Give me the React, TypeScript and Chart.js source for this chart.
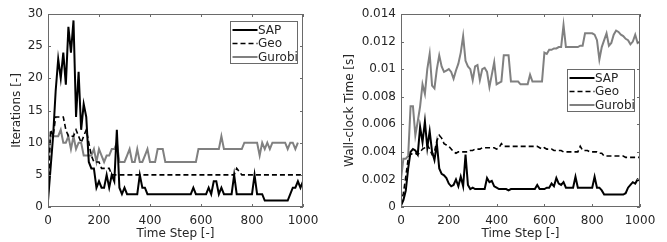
import React, { useEffect, useRef } from "react";
import { Chart, registerables } from "chart.js";
Chart.register(...registerables);

// Time steps (x categories, every 10 steps)
const timeSteps: number[] = Array.from({ length: 101 }, (_, i) => i * 10);

const seriesLabels = ["SAP", "Geo", "Gurobi"];
const xTickStep = 200;

// Left panel: iterations
const sapIterations = [
  1, 6, 11, 18, 23, 20, 24, 19, 28, 24, 29, 14, 21, 12, 16, 14, 7, 6, 6, 3,
  4, 3, 3, 5, 3, 5, 4, 12, 3, 2, 3, 2, 2, 2, 2, 2, 5, 3, 3, 2,
  2, 2, 2, 2, 2, 2, 2, 2, 2, 2, 2, 2, 2, 2, 2, 2,
  2, 3, 2, 2, 2, 2, 2, 3, 2, 4, 4, 2, 3, 2, 2, 2, 2, 5, 2, 2, 2, 2, 2, 2,
  2, 5, 2, 2, 2, 1, 1, 1, 1, 1, 1, 1, 1, 1, 1, 2, 3, 3, 4, 3, 4,
];
const geoIterations = [
  1, 12, 11, 14, 14, 14, 14, 12, 11, 11, 11, 12, 11, 10, 11, 12, 10, 8, 7, 7,
  7, 6, 6, 6, 6, 5, 5, 5, 5, 5, 5, 5, 5, 5, 5, 5, 5, 5, 5, 5,
  5, 5, 5, 5, 5, 5, 5, 5, 5, 5, 5, 5, 5, 5, 5, 5,
  5, 5, 5, 5, 5, 5, 5, 5, 5, 5, 5, 5, 5, 5, 5, 5, 5, 5, 6, 5.5, 5, 5, 5, 5,
  5, 5, 5, 5, 5, 5, 5, 5, 5, 5, 5, 5, 5, 5, 5, 5, 5, 5, 5, 5, 5,
];
const gurobiIterations = [
  7, 11, 11, 11, 11, 12, 10, 10, 11, 9, 11, 9, 10, 10, 8, 8, 8, 8, 9, 7,
  9, 8, 7, 8, 8, 9, 9, 10, 7, 7, 7, 8, 9, 7, 7, 9, 7, 7, 8, 9,
  7, 7, 7, 9, 9, 9, 7, 7, 7, 7, 7, 7, 7, 7, 7, 7,
  7, 7, 7, 9, 9, 9, 9, 9, 9, 9, 9, 9, 11, 9, 9, 9, 9, 9, 9, 9,
  9, 10, 10, 10, 10, 10, 10, 8, 10, 9, 10, 9, 10, 10, 10, 10, 10, 10, 9, 10, 10, 9, 10,
];
const iterTicks = { min: 0, max: 30, step: 5 };

// Right panel: wall-clock time [s]
const sapTime = [
  0.0001, 0.0005, 0.0012, 0.0028, 0.004, 0.0042, 0.0041, 0.0038, 0.0058, 0.0047,
  0.0062, 0.0043, 0.0055, 0.004, 0.0034, 0.0046, 0.0028, 0.0024, 0.0023, 0.0021,
  0.0017, 0.0015, 0.0016, 0.002, 0.0015, 0.0022, 0.0015, 0.0038, 0.0016, 0.0013,
  0.0014, 0.0013, 0.0013, 0.0013, 0.0013, 0.0013, 0.0021, 0.0018, 0.0019, 0.0015,
  0.0014, 0.0013, 0.0013, 0.0013, 0.0013, 0.0012, 0.0013, 0.0013, 0.0013, 0.0013,
  0.0013, 0.0013, 0.0013, 0.0013, 0.0013, 0.0013, 0.0013, 0.0016, 0.0013, 0.0013,
  0.0013, 0.0014, 0.0014, 0.0017, 0.0015, 0.0021, 0.0017, 0.0016, 0.0018, 0.0014,
  0.0014, 0.0014, 0.0014, 0.0022, 0.0014, 0.0014, 0.0014, 0.0014, 0.0014, 0.0014,
  0.0014, 0.0022, 0.0014, 0.0014, 0.0012, 0.0009, 0.0009, 0.0009, 0.0009, 0.0009,
  0.0009, 0.0009, 0.0009, 0.0009, 0.001, 0.0014, 0.0016, 0.0018, 0.0017, 0.002,
  0.0019,
];
const geoTime = [
  0.0002, 0.001, 0.0022, 0.0035, 0.0038, 0.0039, 0.0039, 0.0038, 0.004, 0.0042,
  0.0043, 0.0045, 0.0042, 0.0038, 0.004, 0.0048, 0.0052, 0.005, 0.0046, 0.0045,
  0.0044, 0.0042, 0.004, 0.0039, 0.004, 0.004, 0.004, 0.004, 0.004, 0.0041,
  0.0041, 0.0042, 0.0042, 0.0042, 0.0043, 0.0043, 0.0043, 0.0043, 0.0043, 0.0043,
  0.0042, 0.0043, 0.0046, 0.0044, 0.0044, 0.0044, 0.0044, 0.0044, 0.0044, 0.0044,
  0.0044, 0.0044, 0.0044, 0.0044, 0.0044, 0.0044, 0.0044, 0.0044, 0.0043, 0.0042,
  0.0043, 0.0042, 0.0042, 0.0042, 0.0041, 0.0041, 0.0041, 0.0041, 0.004, 0.004,
  0.004, 0.004, 0.004, 0.004, 0.004, 0.0044, 0.0041, 0.0041, 0.0041, 0.004,
  0.004, 0.004, 0.004, 0.0039, 0.0039, 0.0037, 0.0037, 0.0037, 0.0037, 0.0037,
  0.0037, 0.0037, 0.0037, 0.0037, 0.0036, 0.0036, 0.0036, 0.0036, 0.0036, 0.0036,
  0.0036,
];
const gurobiTime = [
  0.002, 0.0035, 0.0035, 0.0037, 0.0073, 0.0073, 0.0052, 0.0062, 0.0073, 0.0089,
  0.0082, 0.01, 0.0111, 0.0088, 0.0086, 0.01, 0.011, 0.0102, 0.0098, 0.0099,
  0.01, 0.0098, 0.0093, 0.0099, 0.0104, 0.0112, 0.0124, 0.0106, 0.0102, 0.01,
  0.0092, 0.0102, 0.0103, 0.0092, 0.01, 0.0101, 0.0098, 0.0087, 0.0096, 0.0105,
  0.0089, 0.009, 0.0091, 0.011, 0.011, 0.011, 0.0091, 0.0091, 0.0091, 0.0091,
  0.0089, 0.0089, 0.0089, 0.0089, 0.0096, 0.0091, 0.0091, 0.0091, 0.0091, 0.0091,
  0.0112, 0.0111, 0.0114, 0.0114, 0.0115, 0.0115, 0.0116, 0.0116, 0.0132, 0.0116,
  0.0116, 0.0116, 0.0116, 0.0116, 0.0116, 0.0117, 0.0117, 0.0126, 0.0126, 0.0126,
  0.0126, 0.0125, 0.0121, 0.0107, 0.0116, 0.0121, 0.0126, 0.0117, 0.0119, 0.0125,
  0.0128, 0.0127, 0.0125, 0.0124, 0.0122, 0.0121, 0.0118, 0.012, 0.0125, 0.0119,
  0.012,
];
const timeTicks = { min: 0, max: 0.014, step: 0.002 };

const FONT = "'DejaVu Sans', sans-serif";
const TEXT = "#262626";
const AXIS = "#6a6a6a";
const GRAY = "#808080";

const matlabPlugin = {
  id: "matlabBox",
  afterDatasetsDraw(chart: any, _args: any, opts: any) {
    const { ctx, chartArea: a, scales } = chart;
    ctx.save();
    ctx.strokeStyle = AXIS;
    ctx.lineWidth = 1;
    ctx.strokeRect(a.left + 0.5, a.top + 0.5, a.right - a.left - 1, a.bottom - a.top - 1);
    const tl = 3;
    ctx.beginPath();
    for (const t of scales.x.ticks) {
      const px = Math.round(scales.x.getPixelForValue(t.value)) + 0.5;
      ctx.moveTo(px, a.bottom);
      ctx.lineTo(px, a.bottom - tl);
      ctx.moveTo(px, a.top);
      ctx.lineTo(px, a.top + tl);
    }
    for (const t of scales.y.ticks) {
      const py = Math.round(scales.y.getPixelForValue(t.value)) + 0.5;
      ctx.moveTo(a.left, py);
      ctx.lineTo(a.left + tl, py);
      ctx.moveTo(a.right, py);
      ctx.lineTo(a.right - tl, py);
    }
    ctx.stroke();

    // legend box
    const w = 67, h = 42;
    const bx = Math.round(a.right - opts.right - w) + 0.5;
    const by = Math.round(a.top + opts.top) + 0.5;
    ctx.fillStyle = "#fff";
    ctx.fillRect(bx, by, w, h);
    ctx.strokeStyle = AXIS;
    ctx.strokeRect(bx, by, w, h);
    ctx.font = `12px ${FONT}`;
    ctx.textBaseline = "middle";
    ctx.textAlign = "left";
    chart.data.datasets.forEach((ds: any, i: number) => {
      const y = by + 8.5 + i * 13.5;
      ctx.beginPath();
      ctx.strokeStyle = ds.borderColor;
      ctx.lineWidth = ds.borderWidth;
      ctx.setLineDash(ds.borderDash || []);
      ctx.moveTo(bx + 2, y);
      ctx.lineTo(bx + 27, y);
      ctx.stroke();
      ctx.setLineDash([]);
      ctx.fillStyle = TEXT;
      ctx.fillText(ds.label, bx + 27.5, y + 0.5);
    });
    ctx.restore();
  },
};

function makeConfig(
  series: number[][],
  yTitle: string,
  yt: { min: number; max: number; step: number },
  yAxisWidth: number,
  rightPad: number,
  legendPos: { right: number; top: number },
  fmt: (v: number) => string
): any {
  const styles = [
    { color: "#000000", dash: [] as number[], width: 2 },
    { color: "#000000", dash: [5, 3], width: 1.6 },
    { color: GRAY, dash: [] as number[], width: 2 },
  ];
  return {
    type: "line",
    data: {
      datasets: series.map((s, i) => ({
        label: seriesLabels[i],
        data: timeSteps.map((t, j) => ({ x: t, y: s[j] })),
        borderColor: styles[i].color,
        borderDash: styles[i].dash,
        borderWidth: styles[i].width,
        pointRadius: 0,
        fill: false,
        tension: 0,
      })),
    },
    options: {
      responsive: false,
      animation: false,
      layout: { padding: { left: 0, top: 14, right: rightPad, bottom: 0 } },
      plugins: {
        legend: { display: false },
        tooltip: { enabled: false },
        matlabBox: legendPos,
      },
      scales: {
        x: {
          type: "linear",
          min: 0,
          max: 1000,
          grid: { display: false, drawTicks: false },
          border: { display: false },
          ticks: {
            stepSize: xTickStep,
            padding: 7,
            color: TEXT,
            font: { family: FONT, size: 12 },
            maxRotation: 0,
            callback: (v: any) => String(Math.round(Number(v))),
          },
          title: {
            display: true,
            text: "Time Step [-]",
            color: TEXT,
            font: { family: FONT, size: 12 },
            padding: { top: 0, bottom: 1 },
          },
          afterFit: (scale: any) => {
            scale.height = 35;
          },
        },
        y: {
          min: yt.min,
          max: yt.max,
          grid: { display: false, drawTicks: false },
          border: { display: false },
          ticks: {
            stepSize: yt.step,
            padding: 5,
            color: TEXT,
            font: { family: FONT, size: 12 },
            callback: (v: any) => fmt(Number(v)),
          },
          title: {
            display: true,
            text: yTitle,
            color: TEXT,
            font: { family: FONT, size: 12 },
            padding: { top: 10, bottom: 0 },
          },
          afterFit: (scale: any) => {
            scale.width = yAxisWidth;
          },
        },
      },
    },
    plugins: [matlabPlugin],
  };
}

export default function App() {
  const leftRef = useRef<HTMLCanvasElement | null>(null);
  const rightRef = useRef<HTMLCanvasElement | null>(null);

  useEffect(() => {
    const c1 = new Chart(
      leftRef.current as HTMLCanvasElement,
      makeConfig(
        [sapIterations, geoIterations, gurobiIterations],
        "Iterations [-]",
        iterTicks,
        48,
        30,
        { right: 6, top: 7 },
        (v) => String(Math.round(v))
      )
    );
    const c2 = new Chart(
      rightRef.current as HTMLCanvasElement,
      makeConfig(
        [sapTime, geoTime, gurobiTime],
        "Wall-clock Time [s]",
        timeTicks,
        68,
        27,
        { right: 6, top: 55 },
        (v) => String(parseFloat(v.toFixed(4)))
      )
    );
    return () => {
      c1.destroy();
      c2.destroy();
    };
  }, []);

  return (
    <div style={{ position: "fixed", left: 0, top: 0, width: 667, height: 242, background: "#fff" }}>
      <canvas ref={leftRef} width={333} height={242} style={{ position: "absolute", left: 0, top: 0 }} />
      <canvas ref={rightRef} width={334} height={242} style={{ position: "absolute", left: 333, top: 0 }} />
    </div>
  );
}
